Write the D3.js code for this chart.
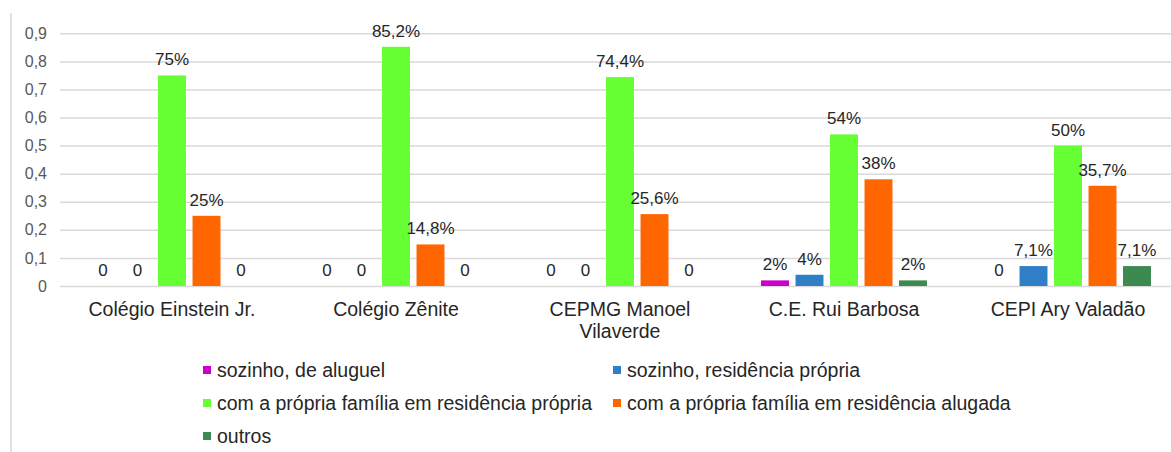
<!DOCTYPE html>
<html lang="pt">
<head>
    <meta charset="UTF-8">
    <script src="https://d3js.org/d3.v7.min.js"></script>
    <style>
        body { margin: 0; background: #fff; }
        text { font-family: "Liberation Sans", Arial, sans-serif; }
        .tick text { fill: #595959; font-size: 16px; }
        .value { fill: #262626; font-size: 17px; text-anchor: middle; }
        .cat { fill: #262626; font-size: 19.5px; text-anchor: middle; }
        .legend text { fill: #262626; font-size: 19.5px; }
    </style>
</head>
<body>
<svg width="1171" height="452" id="chart"></svg>
<script>
// data
const schools = ["Colégio Einstein Jr.", "Colégio Zênite", "CEPMG Manoel Vilaverde", "C.E. Rui Barbosa", "CEPI Ary Valadão"];
const schoolLines = [["Colégio Einstein Jr."], ["Colégio Zênite"], ["CEPMG Manoel", "Vilaverde"], ["C.E. Rui Barbosa"], ["CEPI Ary Valadão"]];
const seriesNames = ["sozinho, de aluguel", "sozinho, residência própria", "com a própria família em residência própria", "com a própria família em residência alugada", "outros"];
const seriesColors = ["#cc00cc", "#2e7fc6", "#66ff33", "#ff6600", "#3c8a50"];

const sozinhoAluguel = [0, 0, 0, 0.02, 0];
const sozinhoPropria = [0, 0, 0, 0.04, 0.071];
const familiaPropria = [0.75, 0.852, 0.744, 0.54, 0.5];
const familiaAlugada = [0.25, 0.148, 0.256, 0.38, 0.357];
const outros = [0, 0, 0, 0.02, 0.071];

const labelsAluguel = ["0", "0", "0", "2%", "0"];
const labelsPropria = ["0", "0", "0", "4%", "7,1%"];
const labelsFamPropria = ["75%", "85,2%", "74,4%", "54%", "50%"];
const labelsFamAlugada = ["25%", "14,8%", "25,6%", "38%", "35,7%"];
const labelsOutros = ["0", "0", "0", "2%", "7,1%"];

const yTicks = [0, 0.1, 0.2, 0.3, 0.4, 0.5, 0.6, 0.7, 0.8, 0.9];

const seriesValues = [sozinhoAluguel, sozinhoPropria, familiaPropria, familiaAlugada, outros];
const seriesLabels = [labelsAluguel, labelsPropria, labelsFamPropria, labelsFamAlugada, labelsOutros];

const svg = d3.select("#chart");
const plotLeft = 60, plotRight = 1180, plotTop = 33.3, plotBottom = 286;

// frame line on the left
svg.append("line")
    .attr("x1", 11).attr("x2", 11).attr("y1", 13).attr("y2", 452)
    .attr("stroke", "#d9d9d9").attr("stroke-width", 1.5);

const y = d3.scaleLinear().domain([0, 0.9]).range([plotBottom, plotTop]);
const x0 = d3.scaleBand().domain(schools).range([plotLeft, plotRight])
    .paddingInner(0.23).paddingOuter(0.115);
const x1 = d3.scaleBand().domain(seriesNames).range([0, x0.bandwidth()])
    .paddingInner(0.19).paddingOuter(0.095);

// y axis with gridlines
const yAxis = svg.append("g")
    .attr("transform", "translate(" + plotLeft + ",0)")
    .call(d3.axisLeft(y).tickValues(yTicks).tickSize(-(plotRight - plotLeft)).tickPadding(13)
        .tickFormat(d => d === 0 ? "0" : d3.format(".1f")(d).replace(".", ",")));
yAxis.select(".domain").remove();
yAxis.selectAll(".tick line").attr("stroke", "#d9d9d9").attr("stroke-width", 1.5);

// bars
const groups = svg.selectAll("g.school")
    .data(schools)
    .enter().append("g")
    .attr("class", "school")
    .attr("transform", d => "translate(" + x0(d) + ",0)");

groups.each(function(school, i) {
    const g = d3.select(this);
    seriesNames.forEach(function(s, j) {
        const v = seriesValues[j][i];
        g.append("rect")
            .attr("x", x1(s))
            .attr("y", y(v))
            .attr("width", x1.bandwidth())
            .attr("height", y(0) - y(v))
            .attr("fill", seriesColors[j]);
        g.append("text")
            .attr("class", "value")
            .attr("x", x1(s) + x1.bandwidth() / 2)
            .attr("y", y(v) - 10)
            .text(seriesLabels[j][i]);
    });
});

// category labels
schools.forEach(function(school, i) {
    const t = svg.append("text")
        .attr("class", "cat")
        .attr("x", x0(school) + x0.bandwidth() / 2)
        .attr("y", 316);
    schoolLines[i].forEach(function(line, k) {
        t.append("tspan")
            .attr("x", x0(school) + x0.bandwidth() / 2)
            .attr("dy", k === 0 ? 0 : 22)
            .text(line);
    });
});

// legend
const legendPos = [[203, 370], [613, 370], [203, 403], [613, 403], [203, 436]];
const legend = svg.append("g").attr("class", "legend");
seriesNames.forEach(function(s, j) {
    legend.append("rect")
        .attr("x", legendPos[j][0])
        .attr("y", legendPos[j][1] - 4)
        .attr("width", 8).attr("height", 8)
        .attr("fill", seriesColors[j]);
    legend.append("text")
        .attr("x", legendPos[j][0] + 14)
        .attr("y", legendPos[j][1])
        .attr("dy", "0.35em")
        .text(s);
});
</script>
</body>
</html>
